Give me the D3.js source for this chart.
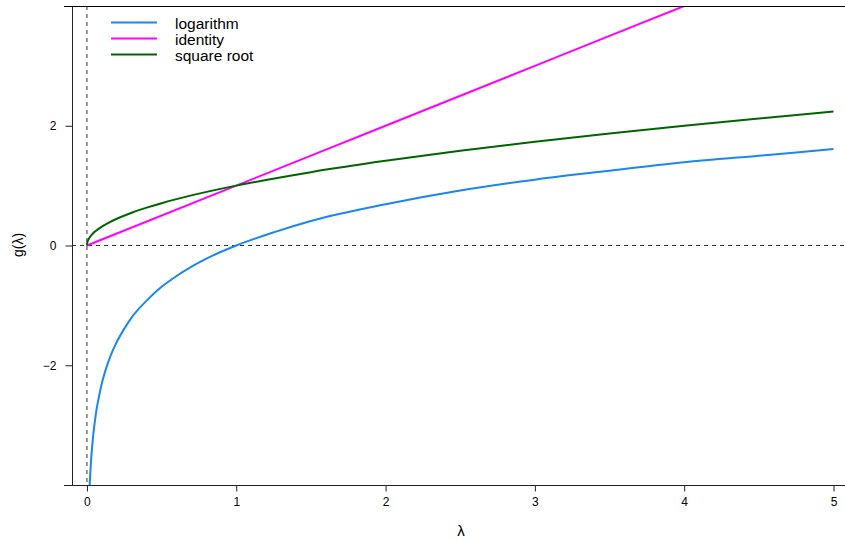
<!DOCTYPE html>
<html><head><meta charset="utf-8">
<script src="https://cdn.jsdelivr.net/npm/d3@7"></script>
<style>body{margin:0;background:#fff}svg{display:block;font-family:"Liberation Sans",Arial,sans-serif}</style>
</head><body><svg id="c" width="845" height="539"></svg>
<script>
// Data
const logX = [0.0183, 0.02, 0.025, 0.03, 0.04, 0.05, 0.065, 0.08, 0.1, 0.13, 0.16, 0.2, 0.25, 0.3, 0.4, 0.5, 0.6, 0.8, 1, 1.25, 1.5, 2, 2.5, 3, 3.5, 4, 4.5, 5];
const logY = [-4.0, -3.91, -3.69, -3.51, -3.22, -3.00, -2.73, -2.53, -2.30, -2.04, -1.83, -1.61, -1.39, -1.20, -0.92, -0.69, -0.51, -0.22, 0, 0.22, 0.41, 0.69, 0.92, 1.10, 1.25, 1.39, 1.50, 1.61];
const idX = [0, 1, 2, 3, 4, 5];
const idY = [0, 1, 2, 3, 4, 5];
const sqX = [0, 0.002, 0.005, 0.01, 0.02, 0.035, 0.05, 0.075, 0.1, 0.15, 0.2, 0.3, 0.4, 0.5, 0.7, 1, 1.5, 2, 2.5, 3, 3.5, 4, 4.5, 5];
const sqY = [0, 0.045, 0.071, 0.1, 0.141, 0.187, 0.224, 0.274, 0.316, 0.387, 0.447, 0.548, 0.632, 0.707, 0.837, 1, 1.225, 1.414, 1.581, 1.732, 1.871, 2, 2.121, 2.236];
const seriesNames = ["logarithm", "identity", "square root"];
const seriesColors = ["#1a86f0", "#ff00ff", "#006400"];
const xTicks = [0, 1, 2, 3, 4, 5];
const yTicks = [-2, 0, 2];

const svg = d3.select("#c");
const x = d3.scaleLinear().domain([-0.1, 5]).range([72, 833.5]);
const y = d3.scaleLinear().domain([-4, 4]).range([485, 6]);

svg.append("defs").append("clipPath").attr("id","clip").append("rect")
  .attr("x",72).attr("y",6).attr("width",845-72).attr("height",485-6);

// reference dashed lines
svg.append("line").attr("x1",x(0)).attr("x2",x(0)).attr("y1",6).attr("y2",485)
  .attr("stroke","#333").attr("stroke-dasharray","4,4").attr("stroke-width",1);
svg.append("line").attr("x1",72).attr("x2",845).attr("y1",y(0)).attr("y2",y(0))
  .attr("stroke","#333").attr("stroke-dasharray","4,4").attr("stroke-width",1);

const line = d3.line().x(d=>x(d[0])).y(d=>y(d[1])).curve(d3.curveMonotoneX);
const series = [d3.zip(logX, logY), d3.zip(idX, idY), d3.zip(sqX, sqY)];
const g = svg.append("g").attr("clip-path","url(#clip)");
series.forEach((s,i)=>{
  g.append("path").attr("d", line(s)).attr("fill","none")
   .attr("stroke", seriesColors[i]).attr("stroke-width",2);
});

// axes
const xAxis = d3.axisBottom(x).tickValues(xTicks).tickSize(6).tickSizeOuter(0).tickPadding(6).tickFormat(d3.format("d"));
const gx = svg.append("g").attr("transform","translate(0,485.5)").call(xAxis);
gx.select(".domain").remove();
gx.append("line").attr("x1",64).attr("x2",845).attr("y1",0).attr("y2",0).attr("stroke","#222");
gx.selectAll("text").attr("font-size",12).attr("fill","#000").attr("font-family","Liberation Sans, Arial, sans-serif");
gx.selectAll(".tick line").attr("stroke","#222");

const yAxis = d3.axisLeft(y).tickValues(yTicks).tickSize(7).tickSizeOuter(0).tickPadding(9)
  .tickFormat(d=> d<0 ? "\u2212"+Math.abs(d) : d);
const gy = svg.append("g").attr("transform","translate(72.5,0)").call(yAxis);
gy.select(".domain").remove();
gy.append("line").attr("x1",0).attr("x2",0).attr("y1",6).attr("y2",485).attr("stroke","#222");
gy.selectAll("text").attr("font-size",12).attr("fill","#000").attr("font-family","Liberation Sans, Arial, sans-serif");
gy.selectAll(".tick line").attr("stroke","#222");

// top line
svg.append("line").attr("x1",64).attr("x2",845).attr("y1",6.5).attr("y2",6.5).attr("stroke","#000");

// axis titles
svg.append("text").attr("x",461).attr("y",536).attr("text-anchor","middle")
  .attr("font-size",15).text("\u03bb");
svg.append("text").attr("transform","translate(23,245) rotate(-90)").attr("text-anchor","middle")
  .attr("font-size",14).text("g(\u03bb)");

// legend
const leg = svg.append("g");
seriesNames.forEach((n,i)=>{
  const yy = 22.5 + i*16;
  leg.append("line").attr("x1",111).attr("x2",157).attr("y1",yy).attr("y2",yy)
    .attr("stroke",seriesColors[i]).attr("stroke-width",2);
  leg.append("text").attr("x",175).attr("y",yy+6).attr("font-size",15.5).text(n);
});
</script></body></html>
